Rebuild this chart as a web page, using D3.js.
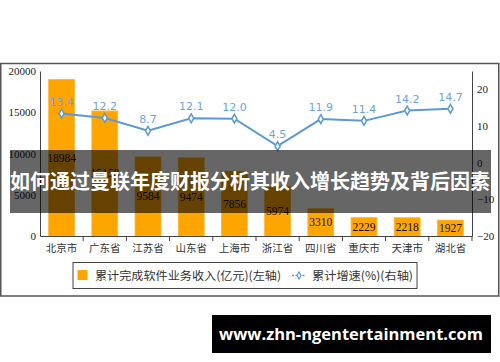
<!DOCTYPE html>
<html>
<head>
<meta charset="utf-8">
<script src="https://cdn.jsdelivr.net/npm/d3@7"></script>
<style>
  html, body { margin: 0; padding: 0; background: #fff; }
  svg { display: block; }
</style>
</head>
<body>
<div id="chart"></div>
<script>
const categories = ['北京市', '广东省', '江苏省', '山东省', '上海市', '浙江省', '四川省', '重庆市', '天津市', '湖北省'];
const revenue = [18984, 15158, 9584, 9474, 7856, 5974, 3310, 2229, 2218, 1927];
const growth = [13.4, 12.2, 8.7, 12.1, 12.0, 4.5, 11.9, 11.4, 14.2, 14.7];
const leftTicks = [0, 5000, 10000, 15000, 20000];
const rightTicks = [-20, -10, 0, 10, 20];
const legendLabels = ['累计完成软件业务收入(亿元)(左轴)', '累计增速(%)(右轴)'];
const bannerText = '如何通过曼联年度财报分析其收入增长趋势及背后因素';
const watermarkText = 'www.zhn-ngentertainment.com';

const width = 500, height = 362;
const margin = { top: 71, right: 28, bottom: 126, left: 40 };
const serif = '"Liberation Serif", "Times New Roman", serif';
const cjk = '"Noto Sans CJK SC", sans-serif';
const lineColor = '#5b9bd5';

const svg = d3.select('#chart').append('svg')
  .attr('width', width)
  .attr('height', height);

svg.append('rect').attr('width', width).attr('height', height).attr('fill', '#fff');

// outer frame
svg.append('rect')
  .attr('x', 0.75).attr('y', 63.5)
  .attr('width', 498).attr('height', 232.5)
  .attr('fill', 'none').attr('stroke', '#555').attr('stroke-width', 1.5);

const x = d3.scaleBand()
  .domain(categories)
  .range([margin.left, width - margin.right])
  .padding(0);

const yLeft = d3.scaleLinear()
  .domain([0, 20000])
  .range([height - margin.bottom, margin.top]);

const yRight = d3.scaleLinear()
  .domain([-20, 25])
  .range([height - margin.bottom, margin.top]);

const barW = x.bandwidth() * 0.6;

// bars
svg.append('g')
  .selectAll('rect')
  .data(revenue)
  .join('rect')
  .attr('x', (d, i) => x(categories[i]) + (x.bandwidth() - barW) / 2)
  .attr('y', d => yLeft(d))
  .attr('width', barW)
  .attr('height', d => yLeft(0) - yLeft(d))
  .attr('fill', '#ffa500')
  .attr('stroke', '#ffb733')
  .attr('stroke-width', 0.8);

// bar value labels (centered in bar)
svg.append('g')
  .selectAll('text')
  .data(revenue)
  .join('text')
  .attr('x', (d, i) => x(categories[i]) + x.bandwidth() / 2)
  .attr('y', d => (yLeft(d) + yLeft(0)) / 2)
  .attr('dy', '0.35em')
  .attr('text-anchor', 'middle')
  .style('font-family', serif)
  .style('font-size', '11.5px')
  .attr('fill', '#111')
  .text(d => d);

// left axis
const gl = svg.append('g')
  .attr('transform', `translate(${margin.left},0)`)
  .call(d3.axisLeft(yLeft).tickValues(leftTicks).tickSize(0).tickPadding(4).tickFormat(d3.format('d')));
gl.select('.domain').attr('stroke', '#444');
gl.selectAll('text').style('font-family', serif).style('font-size', '11px').attr('fill', '#222');

// right axis
const gr = svg.append('g')
  .attr('transform', `translate(${width - margin.right},0)`)
  .call(d3.axisRight(yRight).tickValues(rightTicks).tickSize(0).tickPadding(5));
gr.select('.domain').attr('stroke', '#444');
gr.selectAll('text').style('font-family', serif).style('font-size', '11px').attr('fill', '#222');

// bottom axis
const gb = svg.append('g')
  .attr('transform', `translate(0,${height - margin.bottom})`)
  .call(d3.axisBottom(x).tickSize(0).tickPadding(9));
gb.select('.domain').attr('stroke', '#444');
gb.selectAll('text').style('font-family', cjk).style('font-size', '10.5px').attr('fill', '#333');
gb.selectAll('line.sep')
  .data(categories.slice(1).concat(['__end']))
  .join('line')
  .attr('class', 'sep')
  .attr('x1', d => d === '__end' ? width - margin.right : x(d))
  .attr('x2', d => d === '__end' ? width - margin.right : x(d))
  .attr('y1', 0).attr('y2', 5)
  .attr('stroke', '#444');

// growth line
const line = d3.line()
  .x((d, i) => x(categories[i]) + x.bandwidth() / 2)
  .y(d => yRight(d));

svg.append('path')
  .datum(growth)
  .attr('d', line)
  .attr('fill', 'none')
  .attr('stroke', lineColor)
  .attr('stroke-width', 2);

const diamond = d3.symbol().type(d3.symbolDiamond).size(22);

svg.append('g')
  .selectAll('path')
  .data(growth)
  .join('path')
  .attr('transform', (d, i) => `translate(${x(categories[i]) + x.bandwidth() / 2},${yRight(d)})`)
  .attr('d', diamond)
  .attr('fill', '#fff')
  .attr('stroke', lineColor)
  .attr('stroke-width', 1.5);

svg.append('g')
  .selectAll('text')
  .data(growth)
  .join('text')
  .attr('x', (d, i) => x(categories[i]) + x.bandwidth() / 2)
  .attr('y', d => yRight(d) - 8)
  .attr('text-anchor', 'middle')
  .style('font-family', '"DejaVu Sans", Verdana, sans-serif')
  .style('font-size', '11px')
  .attr('fill', '#6fa3dc')
  .text(d => d.toFixed(1));

// legend
const legend = svg.append('g');
legend.append('rect')
  .attr('x', 73).attr('y', 262.5)
  .attr('width', 344).attr('height', 26)
  .attr('fill', '#fff').attr('stroke', '#444').attr('stroke-width', 1);
legend.append('rect')
  .attr('x', 77.5).attr('y', 270)
  .attr('width', 10).attr('height', 10)
  .attr('fill', '#ffa500');
legend.append('text')
  .attr('x', 95).attr('y', 275.5).attr('dy', '0.35em')
  .attr('textLength', 186).attr('lengthAdjust', 'spacingAndGlyphs')
  .style('font-family', cjk).style('font-size', '11.5px').attr('fill', '#333')
  .text(legendLabels[0]);
legend.append('line')
  .attr('x1', 292).attr('x2', 306).attr('y1', 275.5).attr('y2', 275.5)
  .attr('stroke', lineColor).attr('stroke-width', 1.5).attr('stroke-dasharray', '2,1.5');
legend.append('path')
  .attr('transform', 'translate(299,275.5)')
  .attr('d', d3.symbol().type(d3.symbolDiamond).size(14))
  .attr('fill', '#fff').attr('stroke', lineColor).attr('stroke-width', 1.2);
legend.append('text')
  .attr('x', 312).attr('y', 275.5).attr('dy', '0.35em')
  .attr('textLength', 101).attr('lengthAdjust', 'spacingAndGlyphs')
  .style('font-family', cjk).style('font-size', '11.5px').attr('fill', '#333')
  .text(legendLabels[1]);

// title banner overlay
svg.append('rect')
  .attr('x', 10).attr('y', 150)
  .attr('width', 481).attr('height', 63)
  .attr('fill', '#000').attr('fill-opacity', 0.6);
svg.append('text')
  .attr('x', 250).attr('y', 182).attr('dy', '0.35em')
  .attr('text-anchor', 'middle')
  .style('font-family', cjk).style('font-size', '20px').style('font-weight', 'bold')
  .attr('fill', '#fff')
  .text(bannerText);

// watermark
svg.append('rect')
  .attr('x', 212).attr('y', 315)
  .attr('width', 279).attr('height', 38)
  .attr('fill', '#000');
svg.append('text')
  .attr('x', 351).attr('y', 334).attr('dy', '0.35em')
  .attr('text-anchor', 'middle')
  .style('font-family', '"Open Sans", sans-serif').style('font-size', '16.5px').style('font-weight', 'bold')
  .attr('fill', '#fff')
  .text(watermarkText);
</script>
</body>
</html>
